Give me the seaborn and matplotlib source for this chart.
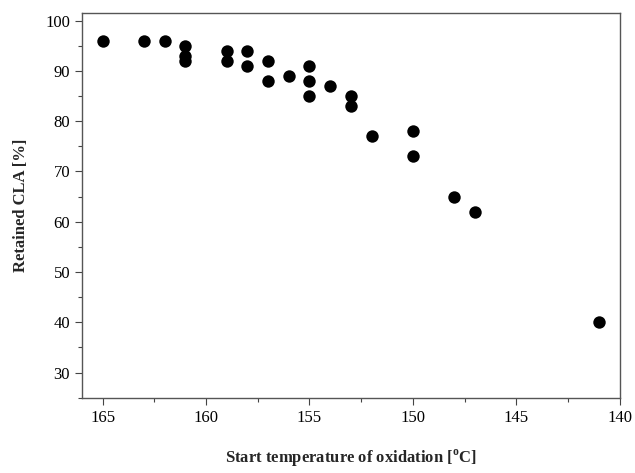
import matplotlib
matplotlib.use("Agg")
import matplotlib.pyplot as plt
import seaborn as sns
import pandas as pd
from matplotlib.ticker import MultipleLocator

temperature = [165, 163, 162, 161, 161, 161, 159, 159, 158, 158, 157, 157, 156,
               155, 155, 155, 154, 153, 153, 152, 150, 150, 148, 147, 141]
retained_cla = [96, 96, 96, 95, 93, 92, 94, 92, 94, 91, 92, 88, 89,
                91, 88, 85, 87, 85, 83, 77, 78, 73, 65, 62, 40]
x_ticks = [165, 160, 155, 150, 145, 140]
y_ticks = [30, 40, 50, 60, 70, 80, 90, 100]

df = pd.DataFrame({"temp": temperature, "cla": retained_cla})

sns.set_theme(style="ticks")
plt.rcParams['font.family'] = ['Liberation Serif', 'DejaVu Serif']
plt.rcParams['mathtext.fontset'] = 'custom'
plt.rcParams['mathtext.rm'] = 'Liberation Serif'
plt.rcParams['mathtext.bf'] = 'Liberation Serif:bold'

fig = plt.figure(figsize=(6.35, 4.73), dpi=100)
ax = fig.add_axes([0.129, 0.159, 0.847, 0.8135])

sns.scatterplot(data=df, x="temp", y="cla", ax=ax, color="black", s=80,
                edgecolor="black", linewidth=0)

ax.set_xlim(166, 140)
ax.set_ylim(25, 101.5)
ax.set_xticks(x_ticks)
ax.set_yticks(y_ticks)
ax.xaxis.set_minor_locator(MultipleLocator(2.5))
ax.yaxis.set_minor_locator(MultipleLocator(5))
ax.tick_params(axis='both', which='major', direction='out', length=5, width=0.8,
               labelsize=12, colors='#444444', labelcolor='black')
ax.tick_params(axis='both', which='minor', direction='out', length=3, width=0.8,
               colors='#444444')
for sp in ax.spines.values():
    sp.set_visible(True)
    sp.set_color('#555555')
    sp.set_linewidth(1.0)

ax.set_xlabel(r"Start temperature of oxidation [$^{\mathbf{o}}$C]", fontsize=12,
              fontweight='bold', labelpad=16)
ax.set_ylabel("Retained CLA [%]", fontsize=12, fontweight='bold', labelpad=12)

fig.savefig("out.png", dpi=100)
